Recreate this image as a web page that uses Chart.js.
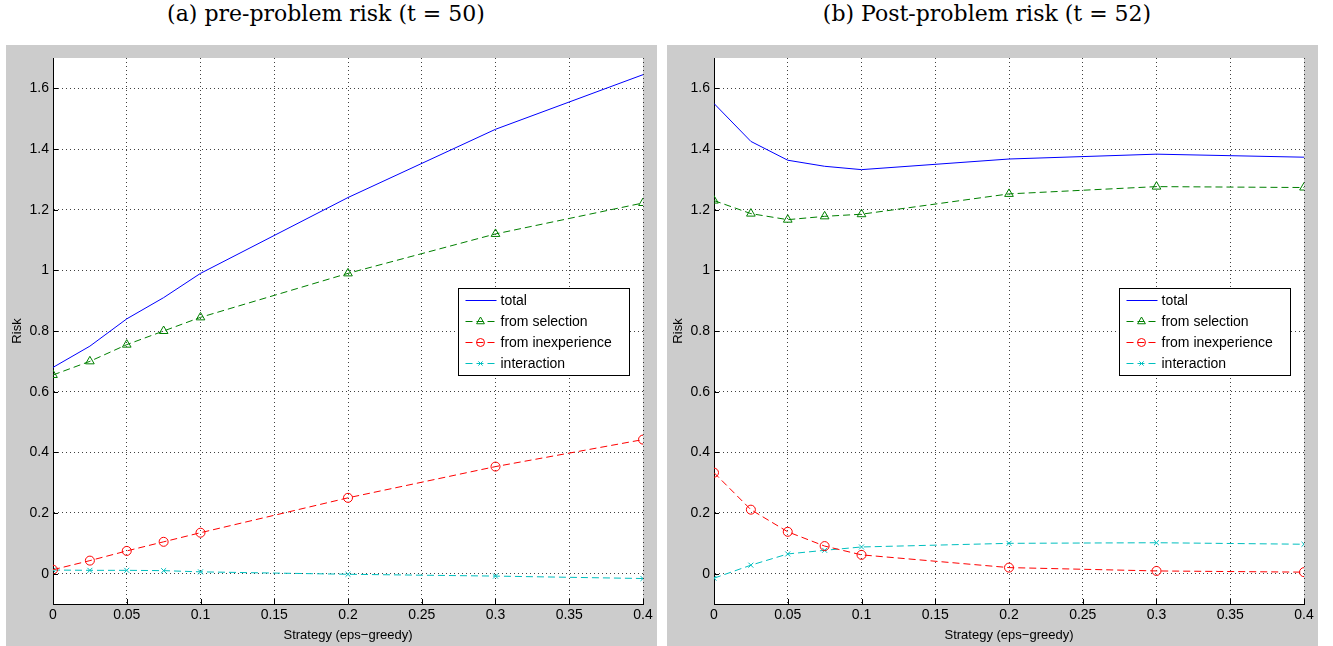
<!DOCTYPE html>
<html>
<head>
<meta charset="utf-8">
<script src="https://cdn.jsdelivr.net/npm/chart.js@4"></script>
<style>
  body { margin: 0; background: #fff; width: 1333px; height: 646px; position: relative; overflow: hidden; }
  .title { position: absolute; top: 1px; font-family: "DejaVu Serif", "Liberation Serif", serif; font-size: 22px; color: #000; text-align: center; }
  .panel { position: absolute; top: 45px; width: 651px; height: 601px; background: #cccccc; }
  .panel canvas { display: block; }
</style>
</head>
<body>
<div class="title" style="left:6px; width:640px;">(a) pre-problem risk (t = 50)</div>
<div class="title" style="left:667px; width:640px;">(b) Post-problem risk (t = 52)</div>
<div class="panel" style="left:6px;"><canvas id="chartPre"></canvas></div>
<div class="panel" style="left:667px;"><canvas id="chartPost"></canvas></div>
<script>
// x values (eps for eps-greedy)
const strategies = [0, 0.025, 0.05, 0.075, 0.1, 0.2, 0.3, 0.4];
const xTicks = [0, 0.05, 0.1, 0.15, 0.2, 0.25, 0.3, 0.35, 0.4];
const yTicks = [0, 0.2, 0.4, 0.6, 0.8, 1, 1.2, 1.4, 1.6];

// (a) pre-problem, t = 50
const preTotal = [0.68, 0.75, 0.84, 0.91, 0.99, 1.24, 1.465, 1.645];
const preSelection = [0.655, 0.70, 0.755, 0.80, 0.845, 0.99, 1.12, 1.222];
const preInexperience = [0.013, 0.043, 0.075, 0.105, 0.135, 0.25, 0.353, 0.442];
const preInteraction = [0.012, 0.011, 0.011, 0.01, 0.006, -0.002, -0.008, -0.016];

// (b) post-problem, t = 52
const postTotal = [1.55, 1.425, 1.363, 1.343, 1.332, 1.367, 1.383, 1.373];
const postSelection = [1.23, 1.187, 1.167, 1.178, 1.185, 1.252, 1.276, 1.273];
const postInexperience = [0.333, 0.211, 0.138, 0.091, 0.062, 0.02, 0.009, 0.005];
const postInteraction = [-0.015, 0.028, 0.065, 0.077, 0.088, 0.1, 0.102, 0.097];

const seriesNames = ["total", "from selection", "from inexperience", "interaction"];

function pts(ys) {
    return strategies.map((x, i) => ({ x: x, y: ys[i] }));
}

function fmt(v) {
    return String(Math.round(v * 1000) / 1000);
}

const chartHelpers = Chart.helpers;

// MATLAB style: white axes, inward ticks, legend box inside the axes (Location East)
const matlabPlugin = {
    id: "matlab",
    beforeDraw(chart) {
        const a = chart.chartArea;
        chart.ctx.save();
        chart.ctx.fillStyle = "#fff";
        chart.ctx.fillRect(a.left, a.top, a.right - a.left, a.bottom - a.top);
        chart.ctx.restore();
    },
    afterDraw(chart) {
        const ctx = chart.ctx;
        const a = chart.chartArea;
        const xs = chart.scales.x, ys = chart.scales.y;
        ctx.save();
        ctx.strokeStyle = "#000";
        ctx.lineWidth = 1;
        ctx.beginPath();
        yTicks.forEach(v => {
            const y = Math.round(ys.getPixelForValue(v)) + 0.5;
            ctx.moveTo(a.left, y); ctx.lineTo(a.left + 5, y);
        });
        xTicks.forEach(v => {
            const x = Math.round(xs.getPixelForValue(v)) + 0.5;
            ctx.moveTo(x, a.bottom); ctx.lineTo(x, a.bottom - 5);
        });
        ctx.stroke();

        // legend
        const w = 171, h = 87;
        const lx = Math.round(a.right - 14 - w) + 0.5;
        const ly = Math.round((a.top + a.bottom) / 2 - h / 2) + 0.5;
        ctx.fillStyle = "#fff";
        ctx.fillRect(lx, ly, w, h);
        ctx.strokeStyle = "#000";
        ctx.setLineDash([]);
        ctx.strokeRect(lx, ly, w, h);
        ctx.font = "14px 'Liberation Sans', Arial, sans-serif";
        ctx.textBaseline = "middle";
        chart.data.datasets.forEach((ds, i) => {
            const cy = ly + 12 + i * 21;
            ctx.strokeStyle = ds.borderColor;
            ctx.lineWidth = 1;
            ctx.setLineDash(ds.borderDash || []);
            ctx.beginPath();
            ctx.moveTo(lx + 7, cy); ctx.lineTo(lx + 38, cy);
            ctx.stroke();
            ctx.setLineDash([]);
            if (ds.pointRadius > 0) {
                ctx.fillStyle = "rgba(0,0,0,0)";
                chartHelpers.drawPoint(ctx, { pointStyle: ds.pointStyle, radius: ds.pointRadius - 0.5, borderWidth: 1, rotation: 0 }, lx + 22, cy);
            }
            ctx.fillStyle = "#000";
            ctx.fillText(ds.label, lx + 42, cy + 1);
        });
        ctx.restore();
    }
};

function makeChart(id, total, selection, inexperience, interaction) {
    return new Chart(document.getElementById(id), {
        type: "line",
        data: {
            datasets: [
                {
                    label: seriesNames[0], data: pts(total),
                    borderColor: "#0000ff", borderWidth: 1, pointRadius: 0
                },
                {
                    label: seriesNames[1], data: pts(selection),
                    borderColor: "#008000", borderWidth: 1, borderDash: [7, 4],
                    pointStyle: "triangle", pointRadius: 5, pointBorderWidth: 1,
                    pointBackgroundColor: "rgba(0,0,0,0)", pointBorderColor: "#008000"
                },
                {
                    label: seriesNames[2], data: pts(inexperience),
                    borderColor: "#ff0000", borderWidth: 1, borderDash: [7, 4],
                    pointStyle: "circle", pointRadius: 4.5, pointBorderWidth: 1,
                    pointBackgroundColor: "rgba(0,0,0,0)", pointBorderColor: "#ff0000"
                },
                {
                    label: seriesNames[3], data: pts(interaction),
                    borderColor: "#00bfbf", borderWidth: 1, borderDash: [7, 4],
                    pointStyle: "crossRot", pointRadius: 3.5, pointBorderWidth: 1,
                    pointBackgroundColor: "rgba(0,0,0,0)", pointBorderColor: "#00bfbf"
                }
            ]
        },
        options: {
            responsive: false,
            animation: false,
            devicePixelRatio: 1,
            layout: { padding: { left: 0, right: 14, top: 13, bottom: 0 } },
            plugins: { legend: { display: false }, tooltip: { enabled: false } },
            elements: { line: { tension: 0 } },
            scales: {
                x: {
                    type: "linear", min: 0, max: 0.4,
                    afterBuildTicks: s => { s.ticks = xTicks.map(v => ({ value: v })); },
                    afterFit: s => { s.height = 42; },
                    grid: { color: "rgba(0,0,0,0.75)", lineWidth: 1, drawTicks: false },
                    border: { display: true, color: "#000", width: 1, dash: [1, 3] },
                    ticks: {
                        color: "#000", padding: 3, maxRotation: 0, autoSkip: false,
                        font: { family: "'Liberation Sans', Arial, sans-serif", size: 14 },
                        callback: v => fmt(v)
                    },
                    title: {
                        display: true, text: "Strategy (eps\u2212greedy)", color: "#000",
                        padding: { top: 0, bottom: 3 },
                        font: { family: "'Liberation Sans', Arial, sans-serif", size: 13 }
                    }
                },
                y: {
                    type: "linear", min: -0.1, max: 1.7,
                    afterBuildTicks: s => { s.ticks = yTicks.map(v => ({ value: v })); },
                    afterFit: s => { s.width = 47; },
                    grid: { color: "rgba(0,0,0,0.75)", lineWidth: 1, drawTicks: false },
                    border: { display: true, color: "#000", width: 1, dash: [1, 3] },
                    ticks: {
                        color: "#000", padding: 4,
                        font: { family: "'Liberation Sans', Arial, sans-serif", size: 14 },
                        callback: v => fmt(v)
                    },
                    title: {
                        display: true, text: "Risk", color: "#000",
                        padding: { top: 4, bottom: 0 },
                        font: { family: "'Liberation Sans', Arial, sans-serif", size: 13 }
                    }
                }
            }
        },
        plugins: [matlabPlugin]
    });
}

const cv1 = document.getElementById("chartPre");
const cv2 = document.getElementById("chartPost");
cv1.width = 651; cv1.height = 601;
cv2.width = 651; cv2.height = 601;

makeChart("chartPre", preTotal, preSelection, preInexperience, preInteraction);
makeChart("chartPost", postTotal, postSelection, postInexperience, postInteraction);
</script>
</body>
</html>
